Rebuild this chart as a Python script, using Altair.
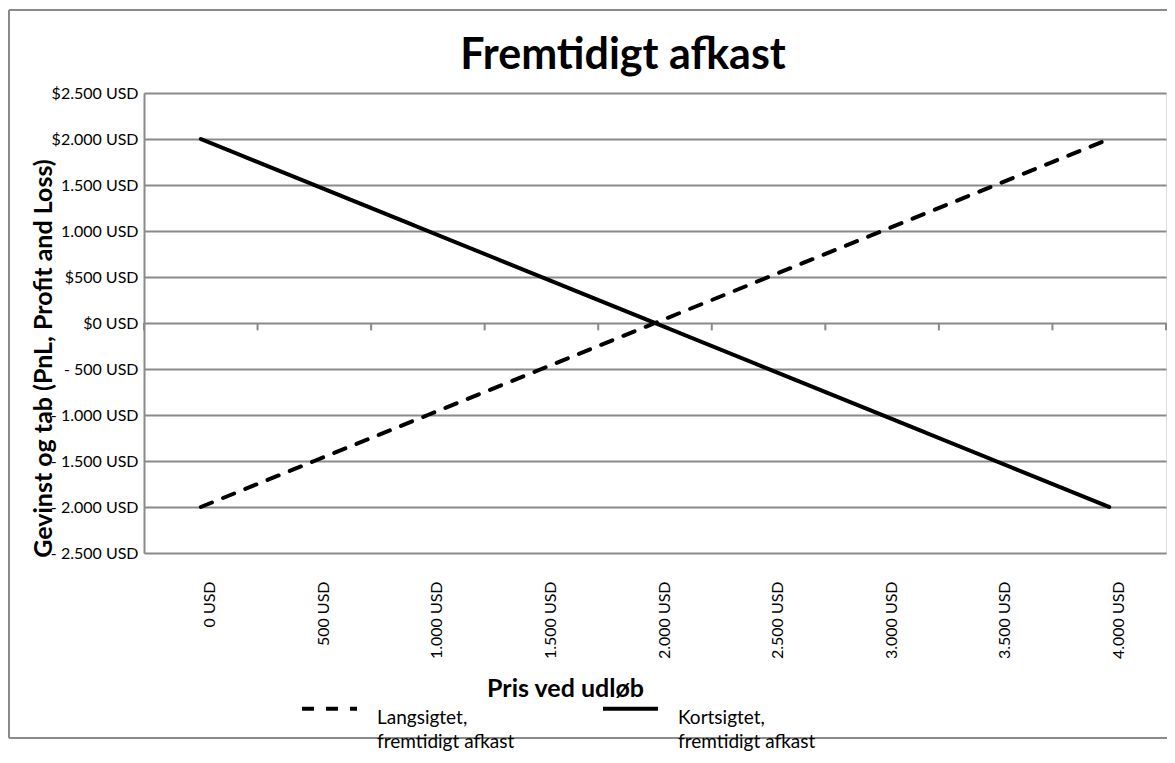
import json
import altair as alt
import pandas as pd

# ---- data ----
prices = [0, 500, 1000, 1500, 2000, 2500, 3000, 3500, 4000]
long_pnl = [-2000, -1500, -1000, -500, 0, 500, 1000, 1500, 2000]
short_pnl = [2000, 1500, 1000, 500, 0, -500, -1000, -1500, -2000]
series_names = ["Langsigtet,\nfremtidigt afkast", "Kortsigtet,\nfremtidigt afkast"]
x_tick_labels = ["0 USD", "500 USD", "1.000 USD", "1.500 USD", "2.000 USD",
                 "2.500 USD", "3.000 USD", "3.500 USD", "4.000 USD"]
y_values = [-2500, -2000, -1500, -1000, -500, 0, 500, 1000, 1500, 2000, 2500]
y_tick_labels = ["- 2.500 USD", "- 2.000 USD", "- 1.500 USD", "- 1.000 USD", "- 500 USD",
                 "$0 USD", "$500 USD", "1.000 USD", "1.500 USD", "$2.000 USD", "$2.500 USD"]
category_edges = [-250, 250, 750, 1250, 1750, 2250, 2750, 3250, 3750, 4250]
chart_title = "Fremtidigt afkast"
x_title = "Pris ved udløb"
y_title = "Gevinst og tab (PnL, Profit and Loss)"

FONT = "Lato"
GRID = "#8a8a8a"

df = pd.DataFrame({
    "price": prices + prices,
    "pnl": long_pnl + short_pnl,
    "series": [series_names[0]] * len(prices) + [series_names[1]] * len(prices),
})
edges_df = pd.DataFrame({"edge": category_edges})
one = pd.DataFrame({"t": [chart_title]})

x_scale = alt.Scale(domain=[-250, 4250], nice=False, zero=False)
y_scale = alt.Scale(domain=[-2500, 2500], nice=False, zero=False)

x_label_expr = json.dumps(x_tick_labels) + "[round(datum.value / 500)]"
y_label_expr = json.dumps(y_tick_labels) + "[round((datum.value + 2500) / 500)]"

x_axis = alt.Axis(
    values=prices, labelExpr=x_label_expr, labelAngle=-90, labelFont=FONT,
    labelFontSize=16, labelColor="black", labelPadding=28, labelOffset=9,
    grid=False, ticks=False, domain=False,
    title=x_title, titleFont=FONT, titleFontSize=25, titleFontWeight="bold",
    titleColor="black", titleX=421, titleY=135, titleBaseline="middle",
    titleAlign="center")
y_axis = alt.Axis(
    values=y_values, labelExpr=y_label_expr, labelFont=FONT, labelFontSize=16,
    labelColor="black", labelPadding=6, ticks=False,
    domain=True, domainColor=GRID, domainWidth=2,
    grid=True, gridColor=GRID, gridWidth=2,
    title=y_title, titleFont=FONT, titleFontSize=25, titleFontWeight="bold",
    titleColor="black", titleX=-88, titleY=265, titleAlign="center")

lines = alt.Chart(df).mark_line(strokeWidth=4, strokeCap="round", color="black").encode(
    x=alt.X("price:Q", scale=x_scale, axis=x_axis),
    y=alt.Y("pnl:Q", scale=y_scale, axis=y_axis),
    strokeDash=alt.StrokeDash("series:N", scale=alt.Scale(domain=series_names, range=[[12, 12], [1, 0]]),
        legend=alt.Legend(
            title=None, orient="none", legendX=156, legendY=586, direction="horizontal",
            symbolType="stroke", symbolSize=3025, symbolStrokeWidth=4,
            symbolStrokeColor="black", labelFont=FONT, labelFontSize=19,
            labelColor="black", labelBaseline="top", labelLimit=400,
            labelExpr="split(datum.label, '\\n')", labelOffset=18,
            columnPadding=80, padding=0)),
    detail="series:N",
)

ticks = alt.Chart(edges_df).mark_rule(color=GRID, strokeWidth=2).encode(
    x=alt.X("edge:Q", scale=x_scale, axis=x_axis),
    y=alt.datum(0, scale=y_scale, axis=y_axis),
    y2=alt.datum(-80),
)

# outer chart frame (top, left and bottom edges; the right edge lies beyond the picture)
frame_top = alt.Chart(one).mark_rule(color=GRID, strokeWidth=2).encode(
    x=alt.value(-135), x2=alt.value(1100), y=alt.value(-83))
frame_left = alt.Chart(one).mark_rule(color=GRID, strokeWidth=2).encode(
    x=alt.value(-135), y=alt.value(-83), y2=alt.value(645))
frame_bottom = alt.Chart(one).mark_rule(color=GRID, strokeWidth=2).encode(
    x=alt.value(-135), x2=alt.value(1100), y=alt.value(645))

title = alt.Chart(one).mark_text(
    font=FONT, fontSize=43, fontWeight="bold", color="black",
    align="center", baseline="alphabetic",
).encode(text="t:N", x=alt.value(479), y=alt.value(-24))

chart = alt.layer(frame_top, frame_left, frame_bottom, ticks, lines, title).properties(
    width=1022, height=460,
    autosize=alt.AutoSizeParams(type="none"),
    padding={"left": 136, "top": 85, "right": 1, "bottom": 202},
    background="white",
).configure_view(stroke=None).configure(style={"guide-label": {"lineHeight": 24}})

chart.save("out.html", embed_options={"renderer": "svg", "actions": False})
